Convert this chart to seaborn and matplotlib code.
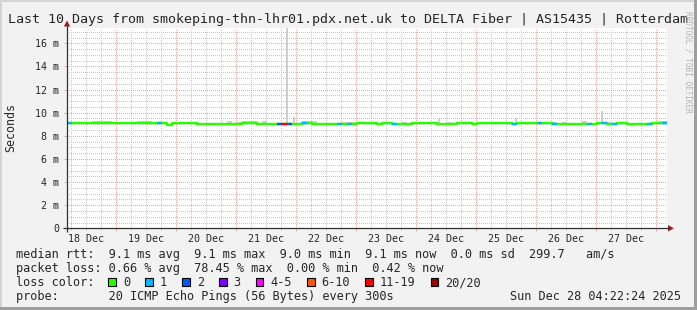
import numpy as np
import pandas as pd
import matplotlib
matplotlib.use("Agg")
import matplotlib.pyplot as plt
import matplotlib.dates as mdates
from matplotlib.transforms import blended_transform_factory
from matplotlib.patches import Rectangle, Polygon
import seaborn as sns

# ---------------- data ----------------
TITLE = "Last 10 Days from smokeping-thn-lhr01.pdx.net.uk to DELTA Fiber | AS15435 | Rotterdam"
END_TIME = "2025-12-28 04:22:24"
BIN_HOURS = 2

# median rtt (ms) per 2-hour bin, one row per day (12 bins)
median_ms = [
    9.08, 9.08, 9.08, 9.08, 9.08, 9.08, 9.08, 9.08, 9.08, 9.08, 9.08, 9.08,
    9.08, 9.08, 9.08, 9.08, 9.08, 9.08, 9.08, 9.08, 8.98, 9.08, 9.08, 9.08,
    9.08, 9.08, 9.02, 9.02, 9.02, 9.02, 9.02, 9.02, 9.02, 9.02, 9.02, 9.12,
    9.12, 9.12, 9.02, 9.02, 9.02, 9.02, 9.02, 9.02, 9.02, 9.02, 9.02, 9.10,
    9.14, 9.02, 9.02, 9.02, 9.02, 9.02, 9.02, 9.02, 9.02, 9.02, 9.08, 9.08,
    9.08, 9.08, 9.00, 9.08, 9.08, 9.05, 9.02, 9.02, 9.02, 9.08, 9.08, 9.08,
    9.08, 9.08, 9.00, 9.00, 9.00, 9.00, 9.08, 9.08, 9.08, 9.00, 9.08, 9.08,
    9.08, 9.08, 9.08, 9.08, 9.08, 9.00, 9.08, 9.08, 9.08, 9.08, 9.10, 9.10,
    9.10, 9.06, 9.06, 9.06, 9.06, 9.00, 9.00, 9.00, 9.00, 9.00, 9.14, 9.14,
    9.02, 9.02, 9.10, 9.10, 9.00, 9.00, 9.00, 9.00, 9.02, 9.08, 9.12, 9.15,
]

# lost pings (of 20) per 2-hour bin
lost_pings = [
    1, 0, 0, 0, 0, 0, 0, 0, 0, 0, 0, 0,
    0, 0, 0, 0, 0, 0, 1, 0, 0, 0, 0, 0,
    0, 0, 0, 0, 0, 0, 0, 0, 0, 0, 0, 0,
    0, 0, 0, 0, 0, 0, 2, 15, 2, 0, 0, 1,
    0, 0, 0, 0, 0, 0, 1, 0, 1, 0, 0, 0,
    0, 0, 0, 0, 0, 1, 0, 0, 0, 0, 0, 0,
    0, 0, 0, 0, 0, 0, 0, 0, 0, 0, 0, 0,
    0, 0, 0, 0, 0, 1, 0, 0, 0, 0, 1, 0,
    0, 1, 0, 0, 0, 0, 0, 0, 1, 0, 0, 1,
    0, 1, 0, 0, 0, 0, 0, 0, 1, 0, 0, 1,
]

# upper edge of the smoke (ms) per 2-hour bin
smoke_max_ms = [
    9.14, 9.14, 9.22, 9.22, 9.22, 9.30, 9.30, 9.30, 9.30, 9.22, 9.14, 9.14,
    9.14, 9.14, 9.30, 9.30, 9.30, 9.14, 9.14, 9.14, 9.04, 9.14, 9.20, 9.20,
    9.20, 9.20, 9.08, 9.08, 9.08, 9.08, 9.08, 9.08, 9.30, 9.08, 9.22, 9.25,
    9.25, 9.25, 9.08, 9.25, 9.08, 9.08, 9.08, 9.08, 9.08, 9.08, 9.08, 9.30,
    9.30, 9.30, 9.08, 9.08, 9.08, 9.08, 9.08, 9.20, 9.20, 9.20, 9.20, 9.20,
    9.20, 9.14, 9.06, 9.14, 9.14, 9.11, 9.08, 9.20, 9.08, 9.14, 9.14, 9.14,
    9.20, 9.14, 9.06, 9.06, 9.20, 9.06, 9.14, 9.18, 9.14, 9.06, 9.14, 9.14,
    9.20, 9.14, 9.14, 9.14, 9.14, 9.06, 9.14, 9.14, 9.14, 9.14, 9.20, 9.16,
    9.18, 9.18, 9.12, 9.18, 9.12, 9.06, 9.06, 9.30, 9.06, 9.06, 9.20, 9.20,
    9.20, 9.08, 9.16, 9.16, 9.06, 9.06, 9.06, 9.15, 9.08, 9.14, 9.25, 9.25,
]

# isolated high pings: hours after start, and max rtt (ms)
spike_hours = [88.0, 90.8, 148.8, 179.6, 214.0]
spike_max_ms = [17.9, 9.6, 9.45, 9.5, 10.15]

day_labels = ["18 Dec", "19 Dec", "20 Dec", "21 Dec", "22 Dec",
              "23 Dec", "24 Dec", "25 Dec", "26 Dec", "27 Dec"]
y_ticks = [0, 2, 4, 6, 8, 10, 12, 14, 16]
y_tick_labels = ["0", "2 m", "4 m", "6 m", "8 m", "10 m", "12 m", "14 m", "16 m"]
Y_MAX = 17.33

loss_labels = ["0", "1", "2", "3", "4-5", "6-10", "11-19", "20/20"]
loss_upper = [0, 1, 2, 3, 5, 10, 19, 20]
loss_colors = ["#26ff00", "#00b8ff", "#0059ff", "#7e00ff",
               "#ff00ff", "#ff5500", "#ff0000", "#a10000"]

line1 = "median rtt:  9.1 ms avg  9.1 ms max  9.0 ms min  9.1 ms now  0.0 ms sd  299.7   am/s"
line2 = "packet loss: 0.66 % avg  78.45 % max  0.00 % min  0.42 % now"
line3 = "loss color:"
line4 = "probe:       20 ICMP Echo Pings (56 Bytes) every 300s"
stamp = "Sun Dec 28 04:22:24 2025"
watermark = "RRDTOOL / TOBI OETIKER"

# ---------------- style ----------------
sns.set_style("white")
plt.rcParams["font.family"] = ["DejaVu Sans Mono"]

W, H = 697, 310
BG = "#f2f2f2"
GRID = "#c8c8c8"
MGRID = "#eaa9a9"
SMOKE = "#d0d0d0"
AXIS = "#303030"
ARROW = "#a31b1b"

fig = plt.figure(figsize=(W / 100, H / 100), dpi=100, facecolor=BG)
X0, X1, YT, YB = 67, 667, 28.0, 228.3
ax = fig.add_axes([X0 / W, (H - YB) / H, (X1 - X0) / W, (YB - YT) / H])
ax.set_facecolor("white")
for s in ax.spines.values():
    s.set_visible(False)

end = pd.Timestamp(END_TIME)
start = end - pd.Timedelta(days=10)
n = len(median_ms)
edges = [start + pd.Timedelta(hours=BIN_HOURS * i) for i in range(n + 1)]
ex = mdates.date2num(edges)

med = np.array(median_ms)
df = pd.DataFrame({"t": ex, "median": np.append(med, med[-1])})

# smoke
ax.fill_between(ex, np.append(med, med[-1]), np.append(smoke_max_ms, smoke_max_ms[-1]),
                step="post", color=SMOKE, lw=0, zorder=2)
sp_t = mdates.date2num([start + pd.Timedelta(hours=h) for h in spike_hours])
sp_base = [med[min(int(h // BIN_HOURS), n - 1)] for h in spike_hours]
ax.vlines(sp_t, sp_base, spike_max_ms, color="#cacaca", lw=1.3, zorder=2)

# median line (green = no loss)
sns.lineplot(data=df, x="t", y="median", drawstyle="steps-post",
             color=loss_colors[0], lw=1.7, ax=ax, zorder=3)

def loss_color(lost):
    for up, c in zip(loss_upper, loss_colors):
        if lost <= up:
            return c
    return loss_colors[-1]

for i, lost in enumerate(lost_pings):
    if lost > 0:
        ax.hlines(med[i], ex[i], ex[i + 1], color=loss_color(lost), lw=1.7, zorder=4)

ax.set_xlim(ex[0], ex[-1])
ax.set_ylim(0, Y_MAX)
ax.set_xlabel("")
ax.set_ylabel("")

# grid
midnights = mdates.date2num(pd.date_range("2025-12-19", "2025-12-28", freq="D"))
six_h = mdates.date2num(pd.date_range("2025-12-18 06:00", "2025-12-28 00:00", freq="6h"))
ax.set_xticks(midnights)
ax.set_xticks(six_h, minor=True)
ax.set_yticks(y_ticks)
ax.set_yticklabels(y_tick_labels)
ax.set_yticks(np.arange(0.5, Y_MAX, 0.5), minor=True)
ax.set_axisbelow(True)
ax.grid(which="minor", color=GRID, lw=0.72, ls=(0, (1, 2)), antialiased=False)
ax.grid(which="major", color=MGRID, lw=0.72, ls=(0, (1, 2)), antialiased=False)
ax.tick_params(axis="y", which="major", length=2.5, width=0.72, color=MGRID,
               labelsize=7.2, pad=3.0, direction="out", left=True)
ax.tick_params(axis="y", which="minor", length=0)
ax.tick_params(axis="x", which="major", length=1.8, width=0.72, color=MGRID,
               labelbottom=False, direction="out", bottom=True)
ax.tick_params(axis="x", which="minor", length=1.2, width=0.72, color=GRID,
               direction="out", bottom=True)

# overlay in pixel coordinates
ov = fig.add_axes([0, 0, 1, 1], zorder=5)
ov.set_xlim(0, W)
ov.set_ylim(H, 0)
ov.axis("off")
ov.patch.set_visible(False)

# frame shading
ov.add_patch(Rectangle((0, 0), W, 2, color="#d4d4d4", lw=0))
ov.add_patch(Rectangle((0, 0), 2, H, color="#d4d4d4", lw=0))
ov.add_patch(Rectangle((0, H - 3), W, 3, color="#9e9e9e", lw=0))
ov.add_patch(Rectangle((W - 3, 0), 3, H, color="#9e9e9e", lw=0))

# axes with arrows
ov.plot([63, 669], [YB, YB], color=AXIS, lw=0.9, solid_capstyle="butt")
ov.plot([X0, X0], [YB + 3.5, 25], color=AXIS, lw=0.9, solid_capstyle="butt")
ov.add_patch(Polygon([[668, YB - 3.2], [674, YB], [668, YB + 3.2]], closed=True, color=ARROW, lw=0))
ov.add_patch(Polygon([[X0 - 3.2, 26.5], [X0, 20.5], [X0 + 3.2, 26.5]], closed=True, color=ARROW, lw=0))

# day labels at noon
noons = mdates.date2num(pd.date_range("2025-12-18 12:00", periods=len(day_labels), freq="D"))
tr = blended_transform_factory(ax.transData, ov.transData)
for xv, lab in zip(noons, day_labels):
    ov.text(xv, 241.7, lab, transform=tr, ha="center", va="baseline", fontsize=7.2)

# title, unit, watermark
ov.text(W / 2, 23.3, TITLE, ha="center", va="baseline", fontsize=9.6)
ov.text(11, 127, "Seconds", rotation=90, ha="center", va="center", fontsize=8.4)
ov.text(688, 62, watermark, rotation=270, ha="center", va="center", fontsize=5.6, color="#b4b4b4")

# legend
LF = 8.52
CW = LF * (100 / 72) * 0.6021
ov.text(16, 258.3, line1, ha="left", va="baseline", fontsize=LF)
ov.text(16, 272.3, line2, ha="left", va="baseline", fontsize=LF)
ov.text(16, 286.2, line3, ha="left", va="baseline", fontsize=LF)
ov.text(16, 300.1, line4, ha="left", va="baseline", fontsize=LF)
ov.text(681, 300.1, stamp, ha="right", va="baseline", fontsize=LF)
bx = 108.3
for lab, col in zip(loss_labels, loss_colors):
    ov.add_patch(Rectangle((bx, 277.8), 7.5, 8.6, facecolor=col, edgecolor="black", lw=0.8))
    ov.text(bx + 14.5, 286.2, lab, ha="left", va="baseline", fontsize=LF)
    bx = bx + 14.5 + len(lab) * CW + 15.3

fig.savefig("out.png", dpi=100, facecolor=BG)
